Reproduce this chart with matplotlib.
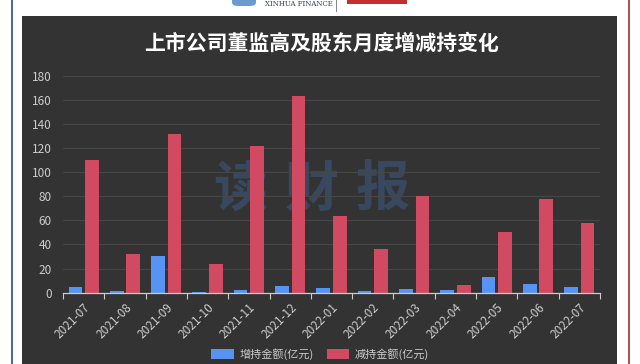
import matplotlib
matplotlib.use("Agg")
import matplotlib.pyplot as plt
from matplotlib.patches import Rectangle, FancyBboxPatch
import numpy as np

plt.rcParams['font.family'] = ['Noto Sans CJK SC', 'DejaVu Sans']

# data (亿元)
months = ['2021-07', '2021-08', '2021-09', '2021-10', '2021-11', '2021-12', '2022-01',
          '2022-02', '2022-03', '2022-04', '2022-05', '2022-06', '2022-07']
increase = [4.4, 1.4, 30.7, 0.6, 2.5, 5.3, 3.6, 1.7, 3.0, 2.2, 12.7, 6.9, 5.0]
decrease = [110, 32, 131.5, 23.8, 121.5, 163, 64, 36, 80.5, 6.4, 50.6, 78, 57.6]

blue = '#5793f3'
red = '#d14a61'
txt = '#cccccc'

fig = plt.figure(figsize=(6.4, 3.64), dpi=100)
fig.patch.set_facecolor('white')

# page frame and dark panel (behind the axes)
fig.add_artist(Rectangle((11 / 640, 0), 1.5 / 640, 1, transform=fig.transFigure,
                         color='#4a6a9a', lw=0, zorder=-2))
fig.add_artist(Rectangle((628 / 640, 0), 1.5 / 640, 1, transform=fig.transFigure,
                         color='#b05060', lw=0, zorder=-2))
fig.add_artist(Rectangle((22 / 640, 0), 595 / 640, 348 / 364, transform=fig.transFigure,
                         color='#333333', lw=0, zorder=-2))

# header logos
fig.add_artist(FancyBboxPatch((232 / 640, 358 / 364), 24 / 640, 10 / 364,
                              boxstyle='round,pad=0,rounding_size=0.01',
                              transform=fig.transFigure, color='#6a9ad0', lw=0))
fig.text(265 / 640, 359.5 / 364, 'XINHUA FINANCE', family='DejaVu Serif', fontsize=5,
         color='#2a3f6a', va='center', ha='left')
fig.add_artist(Rectangle((336 / 640, 352 / 364), 0.8 / 640, 12 / 364,
                         transform=fig.transFigure, color='#888888', lw=0))
fig.add_artist(Rectangle((347 / 640, 360 / 364), 60 / 640, 6 / 364,
                         transform=fig.transFigure, color='#c03030', lw=0))

fig.text(322 / 640, 1 - 43 / 364, '上市公司董监高及股东月度增减持变化', color='white',
         fontsize=15, fontweight='bold', ha='center', va='center')

# watermark
for ch, px in zip('读财报', [240, 312, 383]):
    fig.text(px / 640, 1 - 190 / 364, ch, color='#38485e', fontsize=39,
             fontweight='bold', ha='center', va='center', zorder=-1)

ax = fig.add_axes([63 / 640, 1 - 292.7 / 364, 537 / 640, 217 / 364])
ax.set_facecolor('none')

x = np.arange(len(months))
w = 0.33
ax.bar(x - 0.2, increase, w, color=blue, label='增持金额(亿元)', zorder=3)
ax.bar(x + 0.2, decrease, w, color=red, label='减持金额(亿元)', zorder=3)

ax.set_xlim(-0.5, len(months) - 0.5)
ax.set_ylim(0, 180)
ax.set_yticks(np.arange(0, 181, 20))
ax.yaxis.grid(True, color='#464646', lw=0.8, zorder=0)
ax.tick_params(axis='y', length=0, colors=txt, labelsize=8.5, pad=8)

ax.set_xticks(x)
ax.set_xticklabels(months, rotation=45, ha='right', rotation_mode='anchor')
ax.tick_params(axis='x', which='major', length=0, colors=txt, labelsize=8.5, pad=6)
ax.set_xticks(np.arange(-0.5, len(months)), minor=True)
ax.tick_params(axis='x', which='minor', length=4, color=txt, width=0.8)

for s in ['top', 'right', 'left']:
    ax.spines[s].set_visible(False)
ax.spines['bottom'].set_color(txt)
ax.spines['bottom'].set_linewidth(0.9)
ax.spines['bottom'].set_zorder(4)

leg = fig.legend(loc='center', bbox_to_anchor=(320 / 640, 10 / 364), ncol=2,
                 frameon=False, fontsize=8, handlelength=2.0, handleheight=1.0,
                 columnspacing=1.2, handletextpad=0.5)
for t in leg.get_texts():
    t.set_color(txt)

fig.savefig('out.png', dpi=100, facecolor=fig.get_facecolor())
